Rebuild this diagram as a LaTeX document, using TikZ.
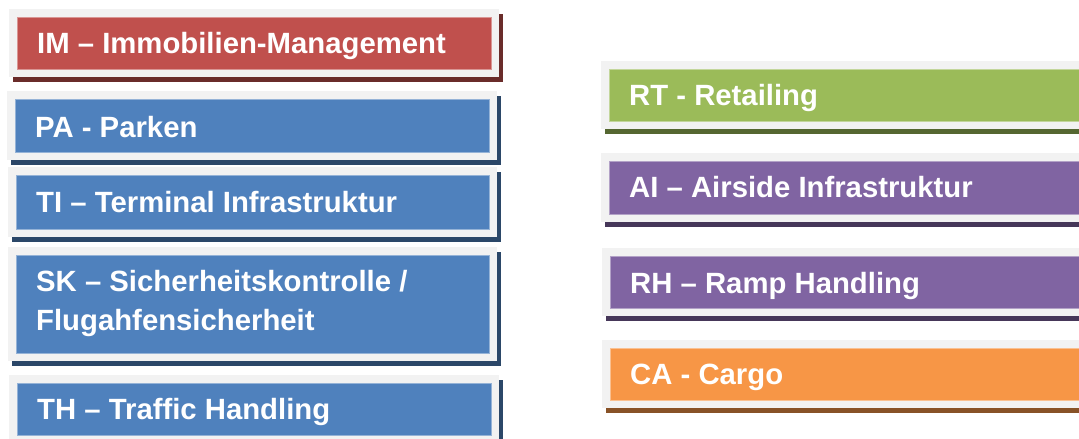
\documentclass[tikz,border=0pt]{standalone}
\usepackage{fontspec}
\setmainfont{Liberation Sans}
\usepackage{tikz}
\definecolor{boxred}{HTML}{C0504D}
\definecolor{boxblue}{HTML}{4F81BD}
\definecolor{boxgreen}{HTML}{9BBB59}
\definecolor{boxviolet}{HTML}{8064A2}
\definecolor{boxorange}{HTML}{F79646}
\definecolor{boxframe}{HTML}{F2F2F2}
\begin{document}
\begin{tikzpicture}[x=1pt,y=-1pt,
  tileshadow/.style={fill=#1!55!black},
  tileframe/.style={fill=boxframe},
  tilebody/.style={fill=#1,draw=#1!60!white,line width=0.8pt},
  tiletext/.style={anchor=base west,inner sep=0pt,text=white,align=left,
    font=\fontsize{29.3}{39}\selectfont\bfseries}]
\clip (0,0) rectangle (1079,439);
% name / frame corners / colour / baseline of last line / text
\foreach \nm/\xa/\ya/\xb/\yb/\col/\base/\txt in {
  im/9/9/499/77/boxred/53/{IM – Immobilien-Management},
  pa/7/91/497/160/boxblue/137/{PA - Parken},
  ti/8/167/497/237/boxblue/212/{TI – Terminal Infrastruktur},
  sk/8/247/497/361/boxblue/330/{SK – Sicherheitskontrolle /\\Flugahfensicherheit},
  th/9/375/499/443/boxblue/419/{TH – Traffic Handling},
  rt/601/61/1090/129/boxgreen/105/{RT - Retailing},
  ai/601/153/1090/222/boxviolet/197/{AI – Airside Infrastruktur},
  rh/602/248/1090/316/boxviolet/293/{RH – Ramp Handling},
  ca/602/340/1090/408/boxorange/384/{CA - Cargo}}
{
  \fill[tileshadow=\col] (\xa+4,\ya+5) rectangle (\xb+4,\yb+5);
  \fill[tileframe] (\xa,\ya) rectangle (\xb,\yb);
  \filldraw[tilebody=\col] (\xa+8,\ya+8) rectangle (\xb-8,\yb-8);
  \node[tiletext] (\nm) at (\xa+28,\base) {\txt};
}
\end{tikzpicture}
\end{document}
